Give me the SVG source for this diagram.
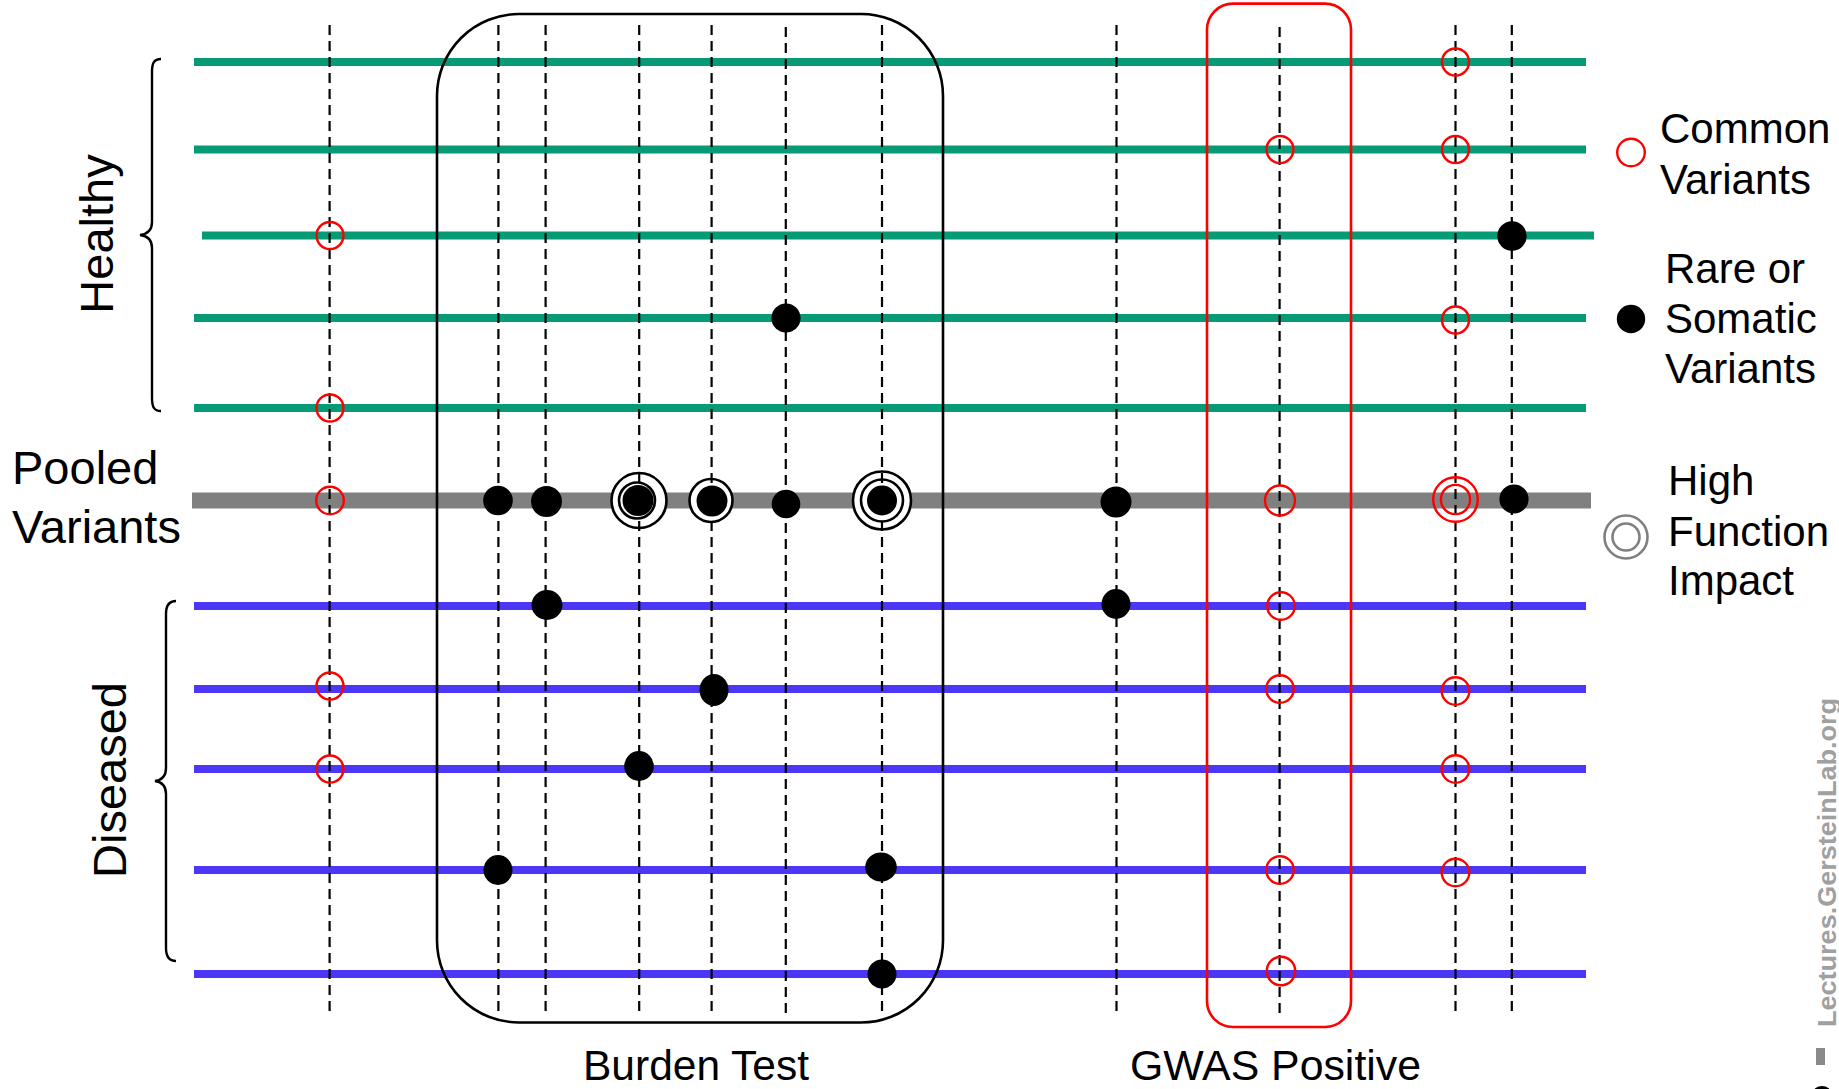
<svg xmlns="http://www.w3.org/2000/svg" width="1839" height="1089" viewBox="0 0 1839 1089">
<style>
.g{stroke:#069a76;stroke-width:8;fill:none}
.b{stroke:#4b37f5;stroke-width:8;fill:none}
.p{stroke:#808080;stroke-width:16;fill:none}
.d{stroke:#000;stroke-width:2.2;stroke-dasharray:10 6;fill:none}
.c{fill:none;stroke:#ff0000;stroke-width:2.4}
.r{fill:#fff;stroke:#000;stroke-width:2.6}
.dot{fill:#000}
.t{font-family:"Liberation Sans",Arial,Helvetica,sans-serif;fill:#000}
.br{fill:none;stroke:#000;stroke-width:2.4}
</style>

<g id="rows">
<line class="g" x1="194" y1="62" x2="1586" y2="62"/>
<line class="g" x1="194" y1="149.5" x2="1586" y2="149.5"/>
<line class="g" x1="202" y1="235.5" x2="1594" y2="235.5"/>
<line class="g" x1="194" y1="318" x2="1586" y2="318"/>
<line class="g" x1="194" y1="408" x2="1586" y2="408"/>
<line class="p" x1="192" y1="500.5" x2="1591" y2="500.5"/>
<line class="b" x1="194" y1="606" x2="1586" y2="606"/>
<line class="b" x1="194" y1="689" x2="1586" y2="689"/>
<line class="b" x1="194" y1="769" x2="1586" y2="769"/>
<line class="b" x1="194" y1="870" x2="1586" y2="870"/>
<line class="b" x1="194" y1="974" x2="1586" y2="974"/>
</g>

<g id="burden-box">
<rect x="437" y="14" width="506" height="1008.5" rx="82" ry="82" fill="none" stroke="#000" stroke-width="2.6"/>
</g>
<g id="gwas-box">
<rect x="1207" y="3.6" width="144" height="1023.4" rx="26" ry="26" fill="none" stroke="#ff0000" stroke-width="2.6"/>
</g>

<g id="rings">
<circle class="r" cx="639" cy="500.5" r="27.5"/>
<circle class="r" cx="637" cy="500.5" r="18"/>
<circle class="r" cx="711" cy="500.5" r="21.5"/>
<circle class="r" cx="882" cy="500.5" r="29"/>
<circle class="r" cx="882" cy="500.5" r="21"/>
</g>

<g id="connectors">
<line class="d" x1="329.6" y1="25" x2="329.6" y2="1016"/>
<line class="d" x1="498.4" y1="25" x2="498.4" y2="1016"/>
<line class="d" x1="545.6" y1="25" x2="545.6" y2="1016"/>
<line class="d" x1="639.2" y1="25" x2="639.2" y2="1016"/>
<line class="d" x1="711.6" y1="25" x2="711.6" y2="1016"/>
<line class="d" x1="785.8" y1="27" x2="785.8" y2="1016"/>
<line class="d" x1="882" y1="25" x2="882" y2="1016"/>
<line class="d" x1="1116.5" y1="25" x2="1116.5" y2="1016"/>
<line class="d" x1="1279.6" y1="27" x2="1279.6" y2="1016"/>
<line class="d" x1="1455.5" y1="25" x2="1455.5" y2="1016"/>
<line class="d" x1="1511.8" y1="25" x2="1511.8" y2="1016"/>
</g>

<g id="common-variants">
<circle class="c" cx="1455.5" cy="62" r="13.5"/>
<circle class="c" cx="1280" cy="149.5" r="13.5"/>
<circle class="c" cx="1455.5" cy="149.5" r="13.5"/>
<circle class="c" cx="330" cy="235.5" r="13.5"/>
<circle class="c" cx="1455.5" cy="320" r="13.5"/>
<circle class="c" cx="330" cy="408" r="13.5"/>
<circle class="c" cx="330" cy="500.5" r="13.8"/>
<circle class="c" cx="1280" cy="500.5" r="15"/>
<circle class="c" cx="1455.5" cy="499.5" r="22.3"/>
<circle class="c" cx="1455.5" cy="499.5" r="14.6"/>
<circle class="c" cx="1281" cy="606" r="13.8"/>
<circle class="c" cx="330" cy="686" r="13.5"/>
<circle class="c" cx="1280" cy="689" r="13.8"/>
<circle class="c" cx="1455.5" cy="691" r="13.8"/>
<circle class="c" cx="330" cy="769" r="13.5"/>
<circle class="c" cx="1455.5" cy="769" r="13.8"/>
<circle class="c" cx="1280" cy="870" r="13.8"/>
<circle class="c" cx="1455.5" cy="872.5" r="13.8"/>
<circle class="c" cx="1281" cy="971" r="14.2"/>
</g>

<g id="rare-variants">
<circle class="dot" cx="1512" cy="236" r="14.7"/>
<circle class="dot" cx="786" cy="318" r="14.6"/>
<circle class="dot" cx="498" cy="500.5" r="14.8"/>
<circle class="dot" cx="546.5" cy="501.5" r="15.5"/>
<circle class="dot" cx="638" cy="500.5" r="15.5"/>
<circle class="dot" cx="712" cy="501" r="15.5"/>
<circle class="dot" cx="786" cy="504" r="14.3"/>
<circle class="dot" cx="882" cy="500.5" r="15"/>
<circle class="dot" cx="1116" cy="502" r="15.5"/>
<circle class="dot" cx="1514" cy="499" r="14.6"/>
<ellipse class="dot" cx="547" cy="605" rx="15.5" ry="15"/>
<ellipse class="dot" cx="1116" cy="604" rx="14.5" ry="15"/>
<ellipse class="dot" cx="714" cy="690" rx="14.5" ry="16"/>
<ellipse class="dot" cx="639" cy="766" rx="14.8" ry="15"/>
<ellipse class="dot" cx="498" cy="870" rx="14.5" ry="15"/>
<ellipse class="dot" cx="881" cy="867" rx="15.8" ry="14.6"/>
<ellipse class="dot" cx="882" cy="974" rx="14.5" ry="14.6"/>
</g>

<g id="healthy-label">
<path class="br" d="M161,59 C154,59 152,63 152,72 L152,222 C152,230 148,234 140,235 C148,236 152,240 152,248 L152,398 C152,407 154,411 161,411"/>
<text class="t" font-size="47" text-anchor="middle" transform="translate(113,234) rotate(-90)">Healthy</text>
</g>
<g id="pooled-label">
<text class="t" font-size="47" x="12" y="484">Pooled</text>
<text class="t" font-size="47" x="12" y="543">Variants</text>
</g>
<g id="diseased-label">
<path class="br" d="M176,601 C169,601 166,605 166,614 L166,768 C166,776 162,780 155,781 C162,782 166,786 166,794 L166,948 C166,957 169,961 176,961"/>
<text class="t" font-size="47" text-anchor="middle" transform="translate(126,780) rotate(-90)">Diseased</text>
</g>

<g id="burden-label">
<text class="t" font-size="42" x="583" y="1080" textLength="226" lengthAdjust="spacingAndGlyphs">Burden Test</text>
</g>
<g id="gwas-label">
<text class="t" font-size="42" x="1130" y="1080" textLength="291" lengthAdjust="spacingAndGlyphs">GWAS Positive</text>
</g>

<g id="legend-common">
<circle class="c" cx="1631" cy="152.5" r="13.8"/>
<text class="t" font-size="42" x="1660" y="143">Common</text>
<text class="t" font-size="42" x="1660" y="194">Variants</text>
</g>
<g id="legend-rare">
<circle class="dot" cx="1631" cy="319" r="14.2"/>
<text class="t" font-size="42" x="1665" y="283">Rare or</text>
<text class="t" font-size="42" x="1665" y="333">Somatic</text>
<text class="t" font-size="42" x="1665" y="383">Variants</text>
</g>
<g id="legend-high">
<circle cx="1626" cy="537" r="21.5" fill="none" stroke="#808080" stroke-width="2.6"/>
<circle cx="1626" cy="537" r="13.5" fill="none" stroke="#808080" stroke-width="2.6"/>
<text class="t" font-size="42" x="1668" y="495">High</text>
<text class="t" font-size="42" x="1668" y="546">Function</text>
<text class="t" font-size="42" x="1668" y="595">Impact</text>
</g>

<g id="watermark">
<text font-family="'Liberation Sans',Arial,sans-serif" font-weight="bold" font-size="25" fill="#a0a0a0" textLength="329" lengthAdjust="spacingAndGlyphs" transform="translate(1836,1027) rotate(-90)">Lectures.GersteinLab.org</text>
<rect x="1816" y="1048" width="9" height="17" fill="#8a8a8a"/>
<ellipse cx="1822" cy="1093" rx="9" ry="7" fill="#000"/>
</g>
</svg>
